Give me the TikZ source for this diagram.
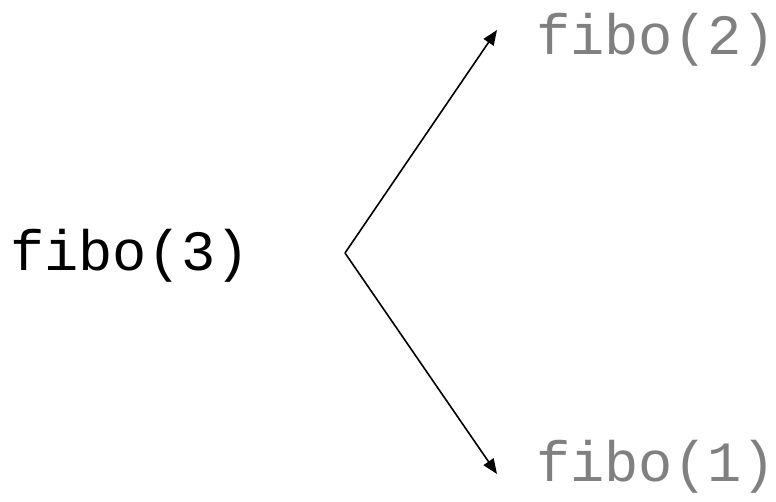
\documentclass[tikz,border=0pt]{standalone}
\usepackage{fontspec}
\setmonofont{Liberation Mono}
\usetikzlibrary{arrows.meta}
\definecolor{callgray}{HTML}{808080}
\tikzset{
  call/.style={font=\ttfamily\fontsize{57}{60}\selectfont, inner sep=0pt, anchor=west},
  sub/.style={call, text=callgray},
  link/.style={line width=1.6pt, -{Triangle[length=15pt,width=12pt]}}
}
\begin{document}
\begin{tikzpicture}[x=1pt,y=1pt]
\useasboundingbox (0,0) rectangle (776,501);
\node[call] (f3) at (10,245) {fibo(3)};
\node[sub] (f2) at (536,461) {fibo(2)};
\node[sub] (f1) at (536,34) {fibo(1)};
\coordinate (v) at (345,248);
\coordinate (t2) at (497,471);
\coordinate (t1) at (497,27);
\draw[link] (v) -- (t2);
\draw[link] (v) -- (t1);
\end{tikzpicture}
\end{document}
